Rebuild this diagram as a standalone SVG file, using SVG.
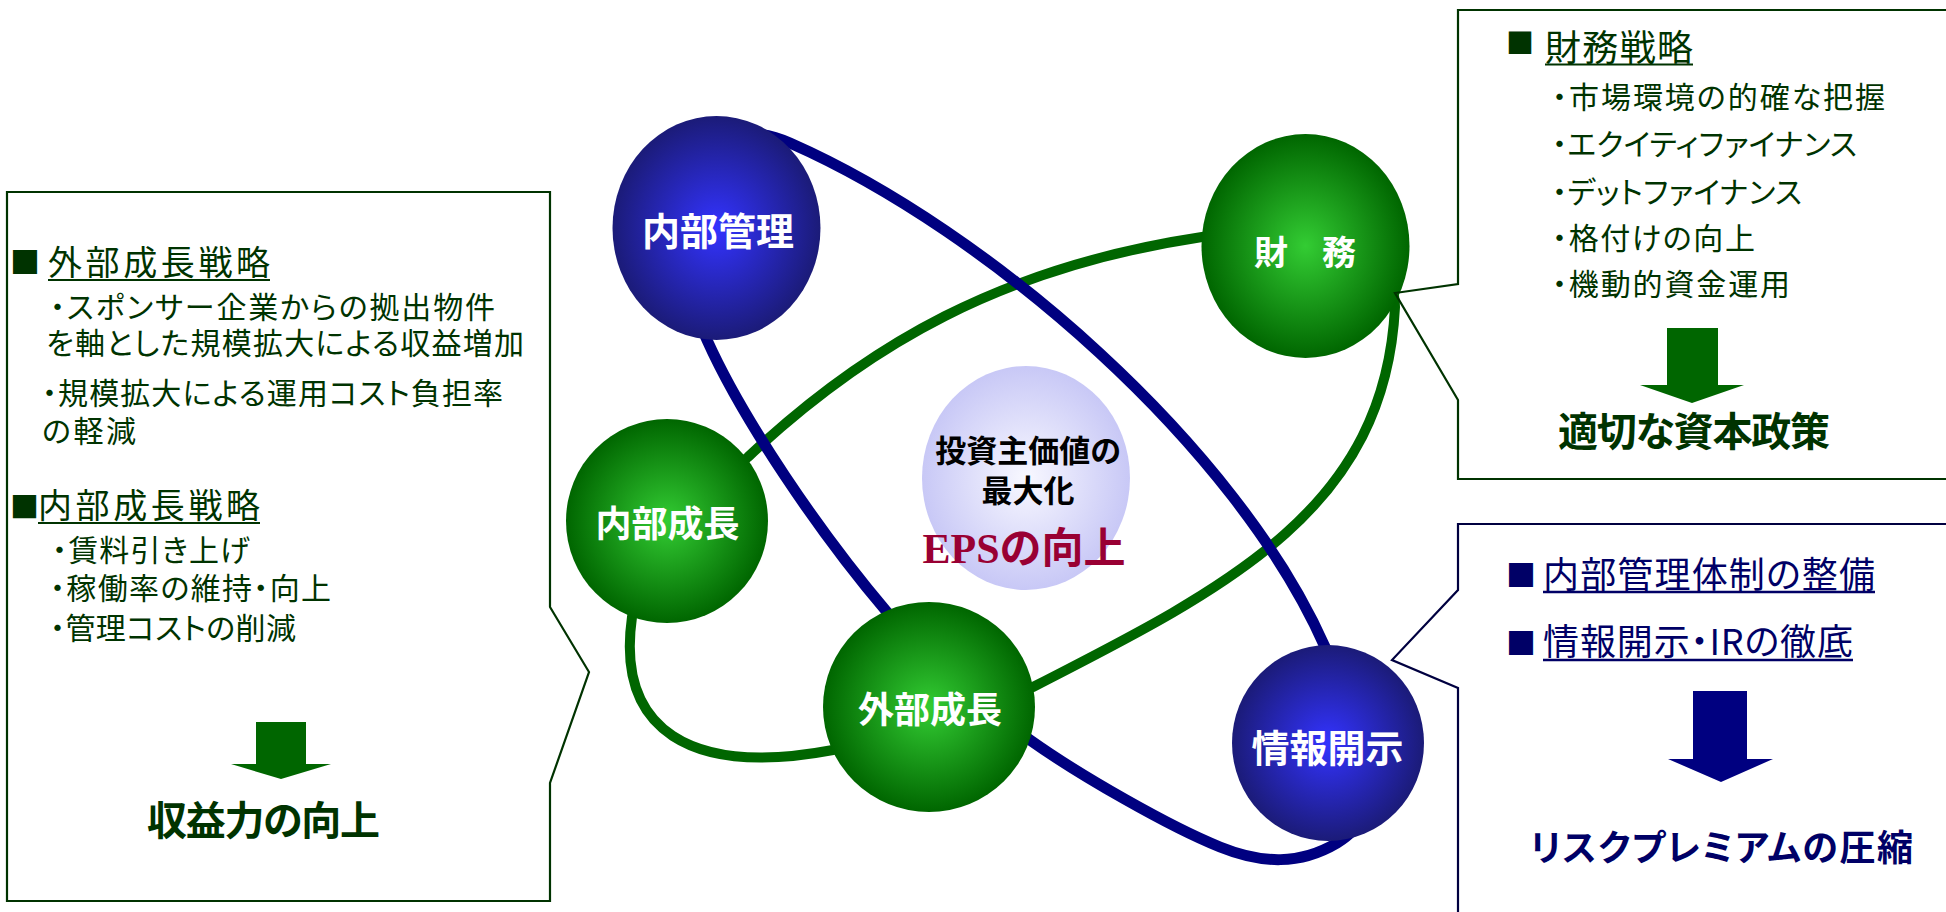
<svg xmlns="http://www.w3.org/2000/svg" width="1946" height="912" viewBox="0 0 1946 912">
<defs>
  <radialGradient id="gradGreen" cx="0.5" cy="0.5" r="0.5">
    <stop offset="0" stop-color="#33CC33"/>
    <stop offset="1" stop-color="#006600"/>
  </radialGradient>
  <radialGradient id="gradBlue" cx="0.5" cy="0.5" r="0.5">
    <stop offset="0" stop-color="#3333FF"/>
    <stop offset="1" stop-color="#1B1B78"/>
  </radialGradient>
  <radialGradient id="gradCenter" cx="0.5" cy="0.5" r="0.5">
    <stop offset="0" stop-color="#F8F8FF"/>
    <stop offset="1" stop-color="#C8C8F6"/>
  </radialGradient>
</defs>
<style>
  .jp { font-family: "Noto Sans CJK JP", "Noto Sans", sans-serif; font-feature-settings: "palt"; }
  .gt { fill: #003300; }
  .bt { fill: #000066; }
  .b { font-weight: bold; }
  .lbl { font-family: "Noto Sans CJK JP", sans-serif; font-weight: bold; fill: #FFFFFF; text-anchor: middle; }
  .boxg { fill: none; stroke: #003300; stroke-width: 2.2; }
  .boxb { fill: none; stroke: #000040; stroke-width: 2.2; }
  .ulg { stroke: #003300; stroke-width: 2.2; }
  .ulb { stroke: #000066; stroke-width: 2.5; }
  .loopb { fill: none; stroke: #000080; stroke-width: 11; }
  .loopg { fill: none; stroke: #006600; stroke-width: 10; }
</style>
<rect x="0" y="0" width="1946" height="912" fill="#FFFFFF"/>

<g id="connectors">
  <path id="loop-green" class="loopg" d="M748,457 C867,345 1002,267 1202,237 C1302,222 1395,247 1395,307 C1385,507 1233,585 1033,687 C980,712 880,741 833,750 C690,777 616,730 632,617 C641,557 708,491 748,457 Z"/>
  <path id="loop-blue" class="loopb" d="M790,143 C990,231 1237,447 1325,647 C1369,747 1392,810 1337,843 C1300,865 1262,864 1220,847 C1170,827 1080,775.5 1030,740 C980,704.5 917,643 887,612 C819,532 743,420 707,340 C653,220 690,99 790,143 Z"/>
</g>

<g id="node-center">
  <ellipse cx="1026" cy="478" rx="104" ry="112" fill="url(#gradCenter)"/>
  <text class="jp b" x="1028" y="462" font-size="31" text-anchor="middle" fill="#000000">投資主価値の</text>
  <text class="jp b" x="1028" y="502" font-size="31" text-anchor="middle" fill="#000000">最大化</text>
  <text x="1024" y="563" font-size="42" font-weight="bold" text-anchor="middle" fill="#990033" font-family="'Liberation Serif', 'Noto Sans CJK JP', serif">EPSの向上</text>
</g>

<g id="node-naibukanri">
  <ellipse cx="716.5" cy="228" rx="104" ry="112" fill="url(#gradBlue)"/>
  <text class="lbl" x="718" y="245" font-size="38">内部管理</text>
</g>
<g id="node-zaimu">
  <ellipse cx="1305.5" cy="246" rx="104" ry="112" fill="url(#gradGreen)"/>
  <text class="lbl" x="1305" y="265" font-size="34">財　務</text>
</g>
<g id="node-naibuseicho">
  <ellipse cx="667" cy="521" rx="101" ry="102" fill="url(#gradGreen)"/>
  <text class="lbl" x="667.5" y="537" font-size="36">内部成長</text>
</g>
<g id="node-gaibuseicho">
  <ellipse cx="929" cy="707" rx="106" ry="105" fill="url(#gradGreen)"/>
  <text class="lbl" x="930" y="723" font-size="36">外部成長</text>
</g>
<g id="node-johokaiji">
  <ellipse cx="1328" cy="743" rx="96" ry="98" fill="url(#gradBlue)"/>
  <text class="lbl" x="1327.5" y="762" font-size="38">情報開示</text>
</g>

<g id="box-revenue">
  <path class="boxg" d="M7,192 H550 V607 L589,672 L550,783 V901 H7 Z"/>
  <text class="jp gt" x="10" y="273" font-size="30">■</text>
  <text class="jp gt" x="48" y="275" font-size="34" textLength="222">外部成長戦略</text>
  <line class="ulg" x1="48" y1="280" x2="270" y2="280"/>
  <text class="jp gt" x="50" y="318" font-size="30" textLength="445">・スポンサー企業からの拠出物件</text>
  <text class="jp gt" x="46" y="354" font-size="30" textLength="478">を軸とした規模拡大による収益増加</text>
  <text class="jp gt" x="42" y="404" font-size="30" textLength="461">・規模拡大による運用コスト負担率</text>
  <text class="jp gt" x="42" y="442" font-size="30" textLength="94">の軽減</text>
  <text class="jp gt" x="10" y="518" font-size="29">■</text>
  <text class="jp gt" x="38" y="518" font-size="34" textLength="222">内部成長戦略</text>
  <line class="ulg" x1="38" y1="523" x2="260" y2="523"/>
  <text class="jp gt" x="52" y="561" font-size="30" textLength="198">・賃料引き上げ</text>
  <text class="jp gt" x="50" y="599" font-size="30" textLength="281">・稼働率の維持・向上</text>
  <text class="jp gt" x="50" y="639" font-size="30" textLength="246">・管理コストの削減</text>
  <polygon points="256,722 306,722 306,764 331,764 281,779 231,764 256,764" fill="#006600"/>
  <text class="jp gt b" x="147" y="835" font-size="40" textLength="233">収益力の向上</text>
</g>

<g id="box-finance">
  <path class="boxg" d="M1950,10 H1458 V284 L1395,293 L1458,400 V479 H1950"/>
  <text class="jp gt" x="1506" y="54" font-size="28">■</text>
  <text class="jp gt" x="1545" y="61" font-size="36" textLength="148">財務戦略</text>
  <line class="ulg" x1="1545" y1="64.5" x2="1693" y2="64.5"/>
  <text class="jp gt" x="1552" y="108" font-size="30" textLength="333">・市場環境の的確な把握</text>
  <text class="jp gt" x="1552" y="155" font-size="30" textLength="305">・エクイティファイナンス</text>
  <text class="jp gt" x="1552" y="203" font-size="30" textLength="250">・デットファイナンス</text>
  <text class="jp gt" x="1552" y="249" font-size="30" textLength="203">・格付けの向上</text>
  <text class="jp gt" x="1552" y="295" font-size="30" textLength="238">・機動的資金運用</text>
  <polygon points="1667,328 1718,328 1718,385 1744,385 1692,403 1640,385 1667,385" fill="#006600"/>
  <text class="jp gt b" x="1558" y="446" font-size="40" textLength="272">適切な資本政策</text>
</g>

<g id="box-risk">
  <path class="boxb" d="M1950,524 H1458 V590 L1392,660 L1458,688 V915"/>
  <text class="jp bt" x="1506" y="586" font-size="30">■</text>
  <text class="jp bt" x="1543" y="588" font-size="36" textLength="332">内部管理体制の整備</text>
  <line class="ulb" x1="1543" y1="592" x2="1875" y2="592"/>
  <text class="jp bt" x="1506" y="654" font-size="30">■</text>
  <text class="jp bt" x="1543" y="655" font-size="36" textLength="310">情報開示・IRの徹底</text>
  <line class="ulb" x1="1543" y1="660" x2="1853" y2="660"/>
  <polygon points="1693,691 1747,691 1747,759 1773,759 1721,782 1668,759 1693,759" fill="#000080"/>
  <text class="jp bt b" x="1530" y="861" font-size="36" textLength="383">リスクプレミアムの圧縮</text>
</g>
</svg>
